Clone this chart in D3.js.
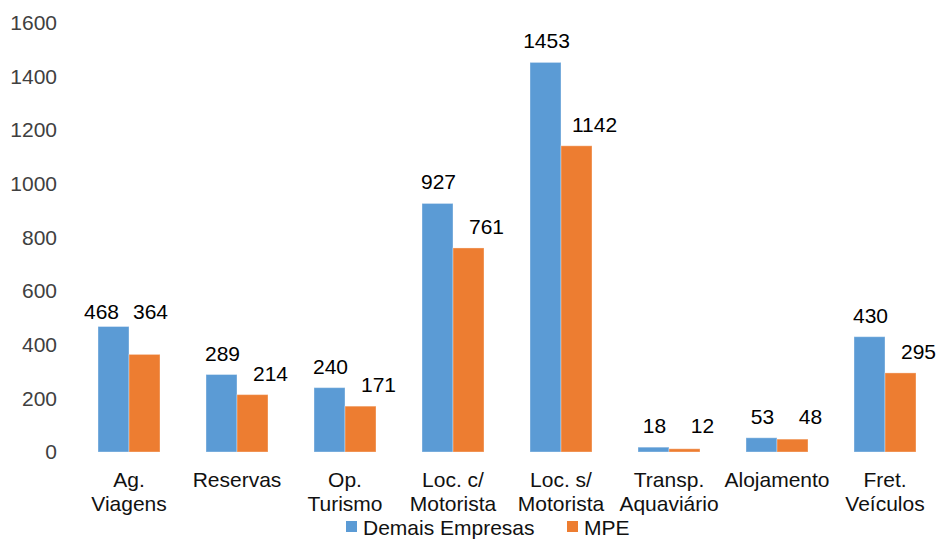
<!DOCTYPE html>
<html><head><meta charset="utf-8">
<script src="https://cdn.jsdelivr.net/npm/d3@7"></script>
<style>body{margin:0;background:#fff}svg{display:block}text{font-family:"Liberation Sans",Arial,sans-serif}</style>
</head><body>
<svg id="c" width="939" height="539"></svg>
<script>
const categories = ["Ag.\nViagens","Reservas","Op.\nTurismo","Loc. c/\nMotorista","Loc. s/\nMotorista","Transp.\nAquaviário","Alojamento","Fret.\nVeículos"];
const demais = [468,289,240,927,1453,18,53,430];
const mpe = [364,214,171,761,1142,12,48,295];
const seriesNames = ["Demais Empresas","MPE"];
const yTicks = [0,200,400,600,800,1000,1200,1400,1600];

const colors = ["#5B9BD5","#ED7D31"];
const svg = d3.select("#c");
const x = d3.scaleBand().domain(categories).range([75,939]).paddingInner(0.426).paddingOuter(0.213);
const xs = d3.scaleBand().domain([0,1]).range([0,x.bandwidth()]);
const y = d3.scaleLinear().domain([0,1600]).range([452,23]);
const fs = 21;

// y axis
const ya = svg.append("g").attr("transform","translate(57,0)")
  .call(d3.axisLeft(y).tickValues(yTicks).tickFormat(d3.format("d")).tickSize(0).tickPadding(0));
ya.select(".domain").remove();
ya.selectAll("text").attr("font-size",fs).attr("fill","#404040").attr("font-family","Liberation Sans, Arial, sans-serif");

// x axis labels
const xa = svg.append("g").attr("transform","translate(0,452)")
  .call(d3.axisBottom(x).tickSize(0).tickFormat(""));
xa.select(".domain").remove();
xa.selectAll(".tick").each(function(d){
  const t = d3.select(this).append("text").attr("text-anchor","middle").attr("font-size",fs).attr("fill","#111");
  d.split("\n").forEach((line,i)=>{
    t.append("tspan").attr("x",0).attr("y",35+i*24).text(line);
  });
});

// label placement (Excel-style manual nudges for the first group, where labels were spread apart)
function labelDx(si,i){ if(i===0) return si===0?-12:6; return si===1?18:1; }
function labelY(si,i,d){
  if(i===0) return y(demais[0])-8;
  let yy = y(d)-14;
  if(si===1){
    const by = y(demais[i])-14;
    if(Math.abs(yy-by)<6) yy = by;
  }
  return yy;
}

const series = [demais, mpe];
series.forEach((vals,si)=>{
  const g = svg.append("g");
  g.selectAll("rect").data(vals).enter().append("rect")
    .attr("x",(d,i)=>x(categories[i])+xs(si))
    .attr("width",xs.bandwidth())
    .attr("y",d=>y(d))
    .attr("height",d=>y(0)-y(d))
    .attr("fill",colors[si])
    .attr("stroke","#fff").attr("stroke-opacity",0.35).attr("stroke-width",1);
  g.selectAll("text").data(vals).enter().append("text")
    .attr("text-anchor","middle").attr("font-size",fs).attr("fill","#000")
    .attr("x",(d,i)=>x(categories[i])+xs(si)+xs.bandwidth()/2 + labelDx(si,i))
    .attr("y",(d,i)=>labelY(si,i,d))
    .text(d=>d);
});

// legend
const lg = svg.append("g");
const legendX = [346,567];
seriesNames.forEach((n,i)=>{
  lg.append("rect").attr("x",legendX[i]).attr("y",521).attr("width",11).attr("height",11).attr("fill",colors[i]);
  lg.append("text").attr("x",legendX[i]+17).attr("y",535).attr("font-size",fs).attr("fill","#111").text(n);
});
</script>
</body></html>
